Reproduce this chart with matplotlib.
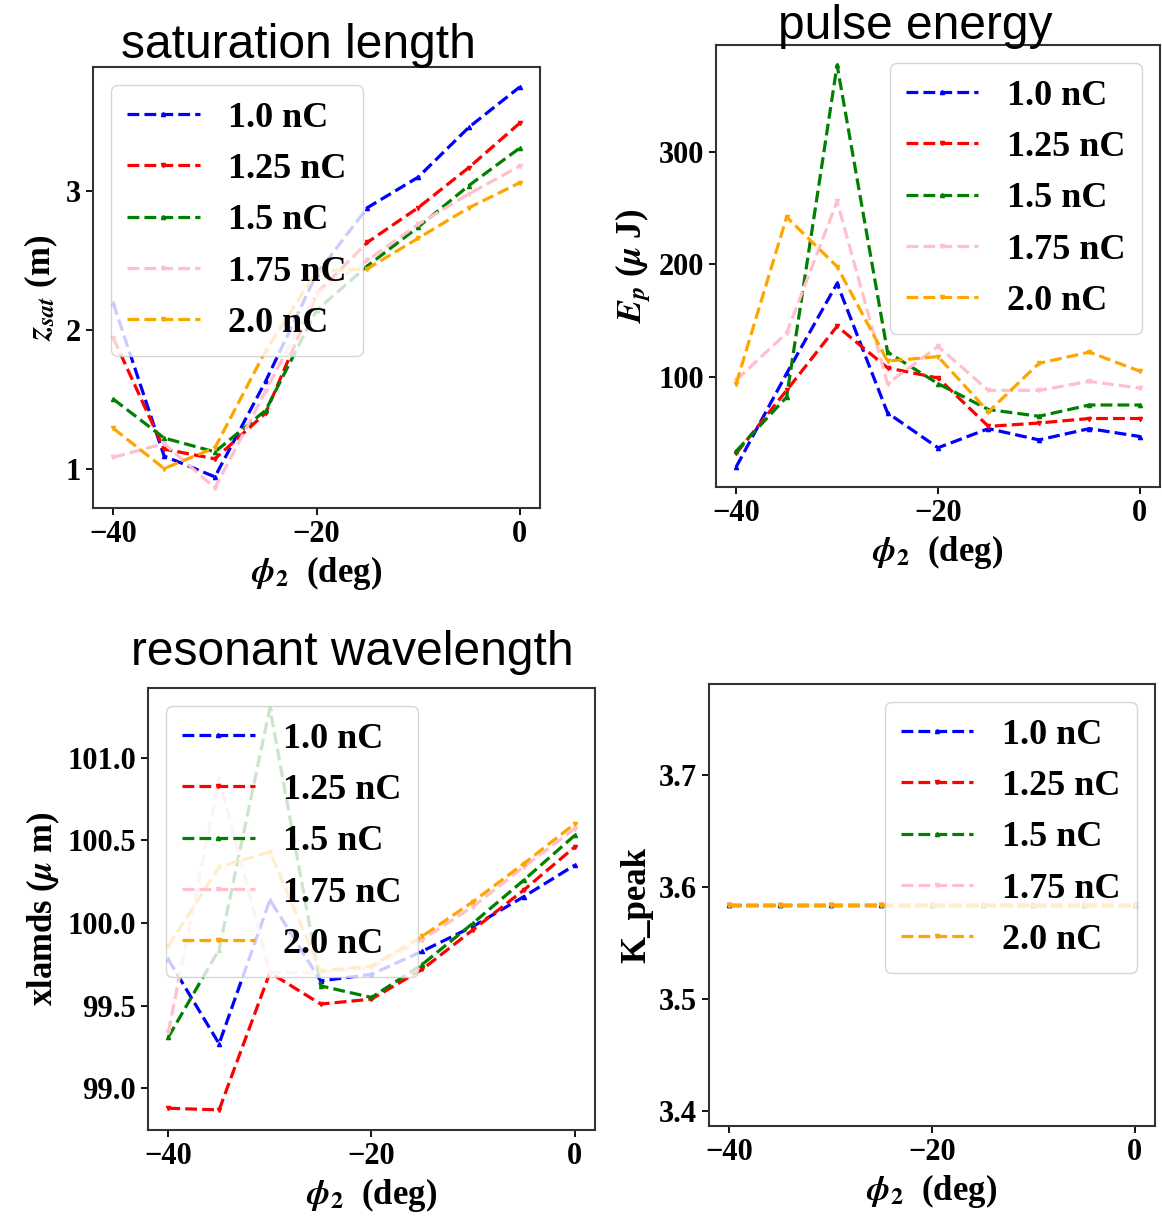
import matplotlib
matplotlib.use('Agg')
import matplotlib.pyplot as plt
import numpy as np

# phase scan values (deg)
phi2 = [-40, -35, -30, -25, -20, -15, -10, -5, 0]

charges = ['1.0 nC', '1.25 nC', '1.5 nC', '1.75 nC', '2.0 nC']
colors = ['blue', 'red', 'green', 'pink', 'orange']
markers = ['^', 'v', '^', 'v', 'v']

# saturation length z_sat (m)
zsat_10 = [2.19, 1.09, 0.94, 1.63, 2.40, 2.88, 3.10, 3.46, 3.75]
zsat_125 = [1.94, 1.14, 1.07, 1.40, 2.26, 2.63, 2.88, 3.17, 3.49]
zsat_15 = [1.50, 1.22, 1.12, 1.42, 2.14, 2.46, 2.74, 3.04, 3.31]
zsat_175 = [1.08, 1.18, 0.86, 1.56, 2.26, 2.50, 2.76, 2.98, 3.18]
zsat_20 = [1.29, 1.00, 1.15, 1.85, 2.42, 2.44, 2.66, 2.88, 3.06]

# pulse energy E_p (uJ)
ep_10 = [20, 103, 183, 68, 37, 54, 44, 54, 47]
ep_125 = [32, 88, 145, 108, 99, 56, 59, 63, 63]
ep_15 = [34, 82, 377, 122, 94, 71, 65, 75, 75]
ep_175 = [97, 139, 256, 94, 127, 88, 88, 96, 90]
ep_20 = [94, 242, 198, 114, 118, 69, 112, 122, 105]

# resonant wavelength xlamds (um)
xl_10 = [99.78, 99.27, 100.14, 99.65, 99.69, 99.83, 99.98, 100.16, 100.35]
xl_125 = [98.88, 98.87, 99.70, 99.51, 99.54, 99.72, 99.96, 100.20, 100.46]
xl_15 = [99.31, 99.84, 101.30, 99.62, 99.55, 99.75, 100.00, 100.26, 100.53]
xl_175 = [99.34, 100.87, 99.70, 99.70, 99.73, 99.90, 100.10, 100.34, 100.57]
xl_20 = [99.86, 100.34, 100.43, 99.71, 99.74, 99.92, 100.13, 100.36, 100.60]

# K_peak (same for every charge)
kp_all = [3.584, 3.584, 3.584, 3.584, 3.584, 3.584, 3.584, 3.584, 3.584]

plt.rcParams['font.family'] = ['Liberation Serif', 'DejaVu Serif']
plt.rcParams['font.weight'] = 'bold'
plt.rcParams['axes.labelweight'] = 'bold'
plt.rcParams['mathtext.fontset'] = 'stix'

W, H = 1162, 1216
fig = plt.figure(figsize=(W / 100, H / 100), dpi=100)


def px_axes(left, top, right, bottom):
    return fig.add_axes([left / W, 1 - bottom / H, (right - left) / W, (bottom - top) / H])


def draw(ax, series, ylabel, yticks, loc):
    for vals, lab, c, m in zip(series, charges, colors, markers):
        ax.plot(phi2, vals, linestyle='--', color=c, marker=m, markersize=3,
                linewidth=2.3, label=lab)
    ax.set_xticks([-40, -20, 0])
    ax.set_yticks(yticks)
    ax.tick_params(labelsize=22, width=1.3, length=5)
    ax.set_xlabel(r'$\boldsymbol{\phi}_2$  (deg)', fontsize=25, fontweight='bold')
    ax.set_ylabel(ylabel, fontsize=25, fontweight='bold')
    for s in ax.spines.values():
        s.set_color('#333333')
        s.set_linewidth(1.5)
    ax.legend(loc=loc, fontsize=26, handlelength=2.0, borderpad=0.45)


ax1 = px_axes(93, 67, 540, 508)
draw(ax1, [zsat_10, zsat_125, zsat_15, zsat_175, zsat_20],
     r'$z_{sat}$ (m)', [1, 2, 3], 'upper left')

ax2 = px_axes(716, 45, 1160, 487)
draw(ax2, [ep_10, ep_125, ep_15, ep_175, ep_20],
     r'$E_p$ ($\boldsymbol{\mu}$ J)', [100, 200, 300], 'upper right')

ax3 = px_axes(148, 688, 595, 1130)
draw(ax3, [xl_10, xl_125, xl_15, xl_175, xl_20],
     r'xlamds ($\boldsymbol{\mu}$ m)', [99.0, 99.5, 100.0, 100.5, 101.0], 'upper left')

ax4 = px_axes(709, 684, 1155, 1126)
draw(ax4, [kp_all] * 5, 'K_peak', [3.4, 3.5, 3.6, 3.7], 'upper right')

# titles placed like the original panels
fig.text(298 / W, 1 - 58 / H, 'saturation length', fontsize=34.5, ha='center',
         va='baseline', family='Liberation Sans', weight='normal')
fig.text(915 / W, 1 - 39 / H, 'pulse energy', fontsize=34.5, ha='center',
         va='baseline', family='Liberation Sans', weight='normal')
fig.text(352 / W, 1 - 665 / H, 'resonant wavelength', fontsize=34.5, ha='center',
         va='baseline', family='Liberation Sans', weight='normal')

fig.savefig('out.png', dpi=100, facecolor='white')
